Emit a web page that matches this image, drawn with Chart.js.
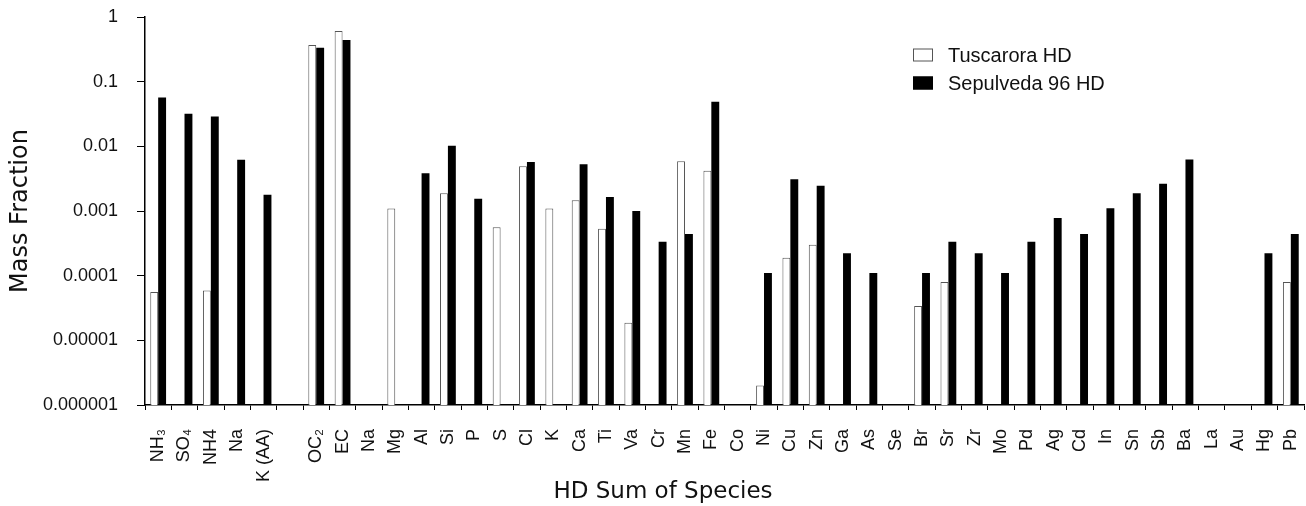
<!DOCTYPE html>
<html>
<head>
<meta charset="utf-8">
<script src="https://cdn.jsdelivr.net/npm/chart.js@4/dist/chart.umd.min.js"></script>
<style>
    body { margin: 0; background: #fff; }
    #wrap { width: 1306px; height: 506px; }
</style>
</head>
<body>
<div id="wrap"><canvas id="species-chart" width="1306" height="506"></canvas></div>
<script>
// categories along the x axis (blank one is the gap after the ion group)
const species = ['NH\u2083', 'SO\u2084', 'NH4', 'Na', 'K (AA)', '',
    'OC\u2082', 'EC', 'Na', 'Mg', 'Al', 'Si', 'P', 'S', 'Cl', 'K', 'Ca', 'Ti', 'Va', 'Cr',
    'Mn', 'Fe', 'Co', 'Ni', 'Cu', 'Zn', 'Ga', 'As', 'Se', 'Br', 'Sr', 'Zr', 'Mo', 'Pd',
    'Ag', 'Cd', 'In', 'Sn', 'Sb', 'Ba', 'La', 'Au', 'Hg', 'Pb'];

const tuscarora = [5.6e-5, null, 5.9e-5, null, null, null,
    0.37, 0.61, null, 0.00109, null, 0.00188, null, 0.00056, 0.0049, 0.00109, 0.00147, 0.00053, 1.87e-5, null,
    0.0059, 0.0042, null, 2.0e-6, 0.00019, 0.0003, null, null, null, 3.4e-5, 8.0e-5, null, null, null,
    null, null, null, null, null, null, null, null, null, 8.0e-5];

const sepulveda = [0.057, 0.032, 0.029, 0.0062, 0.00178, null,
    0.335, 0.44, null, null, 0.00385, 0.0102, 0.00154, null, 0.0057, null, 0.0053, 0.00165, 0.001, 0.000336,
    0.00044, 0.049, null, 0.00011, 0.0031, 0.00245, 0.000222, 0.00011, null, 0.00011, 0.000336, 0.000222, 0.00011, 0.000336,
    0.00078, 0.00044, 0.0011, 0.00188, 0.00265, 0.00625, null, null, 0.000222, 0.00044];

const yTickValues = [1e-6, 1e-5, 1e-4, 1e-3, 1e-2, 1e-1, 1];
const yTickLabels = ['0.000001', '0.00001', '0.0001', '0.001', '0.01', '0.1', '1'];

const SANS = "'Liberation Sans', Arial, sans-serif";
const WIDE = "'DejaVu Sans', sans-serif";

// legend drawn inside the plot area, top right
const boxLegend = {
    id: 'boxLegend',
    afterDraw(chart, args, opts) {
        const ctx = chart.ctx;
        ctx.save();
        ctx.font = '20px ' + SANS;
        ctx.textBaseline = 'middle';
        chart.data.datasets.forEach((ds, i) => {
            const y = opts.y + i * opts.rowGap;
            ctx.fillStyle = ds.backgroundColor;
            ctx.fillRect(opts.x, y - 6.5, 20, 13);
            ctx.strokeStyle = ds.borderColor;
            ctx.lineWidth = 1;
            ctx.strokeRect(opts.x + 0.5, y - 6, 19, 12);
            ctx.fillStyle = '#111';
            ctx.fillText(ds.label, opts.x + 35, y + 1);
        });
        ctx.restore();
    }
};

// x axis title sits left of centre in the original
const xTitle = {
    id: 'xTitle',
    afterDraw(chart, args, opts) {
        const ctx = chart.ctx;
        ctx.save();
        ctx.font = '23px ' + WIDE;
        ctx.fillStyle = '#111';
        ctx.textAlign = 'center';
        ctx.textBaseline = 'middle';
        ctx.fillText(opts.text, opts.x, opts.y);
        ctx.restore();
    }
};

new Chart(document.getElementById('species-chart').getContext('2d'), {
    type: 'bar',
    data: {
        labels: species,
        datasets: [{
            label: 'Tuscarora HD',
            data: tuscarora,
            backgroundColor: '#ffffff',
            borderColor: '#555555',
            borderWidth: 1,
            categoryPercentage: 0.6,
            barPercentage: 1.0
        }, {
            label: 'Sepulveda 96 HD',
            data: sepulveda,
            backgroundColor: '#000000',
            borderColor: '#000000',
            borderWidth: 0,
            categoryPercentage: 0.6,
            barPercentage: 1.0
        }]
    },
    options: {
        responsive: false,
        animation: false,
        layout: { padding: { top: 17, right: 2, left: 0, bottom: 0 } },
        plugins: {
            legend: { display: false },
            tooltip: { enabled: false },
            boxLegend: { x: 913, y: 55, rowGap: 28 },
            xTitle: { text: 'HD Sum of Species', x: 663, y: 492 }
        },
        scales: {
            x: {
                grid: {
                    display: true,
                    drawOnChartArea: false,
                    drawTicks: true,
                    tickLength: 5,
                    color: '#000',
                    offset: true
                },
                border: { display: true, color: '#000', width: 1.5 },
                ticks: {
                    autoSkip: false,
                    maxRotation: 90,
                    minRotation: 90,
                    padding: 19,
                    color: '#111',
                    font: { family: SANS, size: 18 }
                },
                afterFit(axis) {
                    axis.height = 101;
                    axis.paddingLeft = 0;
                    axis.paddingRight = 0;
                }
            },
            y: {
                type: 'logarithmic',
                min: 1e-6,
                max: 1,
                grid: {
                    display: true,
                    drawOnChartArea: false,
                    drawTicks: true,
                    tickLength: 8,
                    color: '#000'
                },
                border: { display: true, color: '#000', width: 1.5 },
                afterBuildTicks(axis) {
                    axis.ticks = yTickValues.map(v => ({ value: v }));
                },
                ticks: {
                    padding: 19,
                    color: '#111',
                    font: { family: SANS, size: 18 },
                    callback: (value, index) => yTickLabels[index]
                },
                title: {
                    display: true,
                    text: 'Mass Fraction',
                    color: '#111',
                    font: { family: WIDE, size: 24 },
                    padding: { top: 6, bottom: 0 }
                },
                afterFit(axis) {
                    axis.width = 145;
                    axis.paddingTop = 0;
                    axis.paddingBottom = 0;
                }
            }
        }
    },
    plugins: [boxLegend, xTitle]
});
</script>
</body>
</html>
